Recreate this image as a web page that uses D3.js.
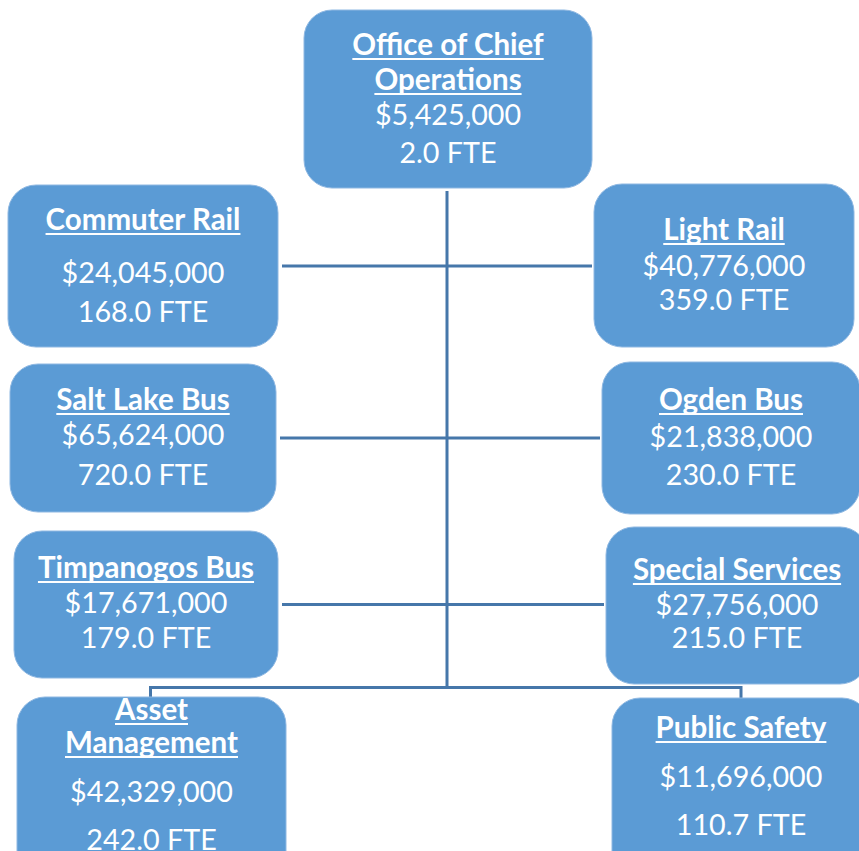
<!DOCTYPE html>
<html lang="en">
<head>
<meta charset="utf-8">
<title>Office of Chief Operations</title>
<script src="https://d3js.org/d3.v7.min.js"></script>
<style>
  body { margin: 0; background: #fff; }
  .box { fill: #5b9bd5; stroke: #8fb8e2; stroke-width: 1; }
  .link { fill: none; stroke: #4677aa; stroke-width: 3px; }
  .node text { fill: #fff; font-family: Lato, "Open Sans", sans-serif; text-anchor: middle; }
  .title { font-weight: bold; font-size: 29.5px; }
  .val { font-size: 28.7px; }
  .uline { stroke: #fff; stroke-width: 2px; }
</style>
</head>
<body>
<svg width="859" height="851"></svg>
<script>
// data
var units = ["Office of Chief|Operations", "Commuter Rail", "Light Rail", "Salt Lake Bus", "Ogden Bus",
             "Timpanogos Bus", "Special Services", "Asset|Management", "Public Safety"];
var budgets = [5425000, 24045000, 40776000, 65624000, 21838000, 17671000, 27756000, 42329000, 11696000];
var fte = [2.0, 168.0, 359.0, 720.0, 230.0, 179.0, 215.0, 242.0, 110.7];

// box layout: x, y, w, h and text baselines (relative to box top)
var layout = [
  {x: 304, y: 10,  w: 288, h: 178, t: [45, 80], b: 115, f: 153},
  {x: 8,   y: 185, w: 270, h: 162, t: [45], b: 98, f: 137},
  {x: 594, y: 184, w: 260, h: 163, t: [56], b: 92, f: 126},
  {x: 10,  y: 364, w: 266, h: 148, t: [46], b: 81, f: 121},
  {x: 602, y: 362, w: 258, h: 152, t: [48], b: 85, f: 123},
  {x: 14,  y: 531, w: 264, h: 147, t: [47], b: 82, f: 117},
  {x: 606, y: 527, w: 262, h: 157, t: [53], b: 88, f: 121},
  {x: 17,  y: 697, w: 269, h: 190, t: [23, 56], b: 105, f: 153},
  {x: 612, y: 698, w: 258, h: 190, t: [40], b: 89, f: 137}
];

var svg = d3.select("svg");
var money = d3.format("$,");
var one = d3.format(".1f");

var nodes = units.map(function(u, i) {
  return {lines: u.split("|"), budget: budgets[i], fte: fte[i], box: layout[i]};
});

function cx(b) { return b.x + b.w / 2; }
function cy(b) { return b.y + b.h / 2; }

// connectors
var links = svg.append("g");
var head = nodes[0].box;
var spineX = cx(head) - 1;
var barY = (nodes[5].box.y + nodes[5].box.h + nodes[7].box.y) / 2;

var path = d3.path();
path.moveTo(spineX, head.y + head.h + 3);
path.lineTo(spineX, barY);
[[1, 2], [3, 4], [5, 6]].forEach(function(p) {
  var l = nodes[p[0]].box, r = nodes[p[1]].box;
  path.moveTo(l.x + l.w + 4, cy(l));
  path.lineTo(r.x - 2, cy(l));
});
var al = nodes[7].box, ps = nodes[8].box;
path.moveTo(cx(al) - 1, al.y);
path.lineTo(cx(al) - 1, barY);
path.lineTo(cx(ps), barY);
path.lineTo(cx(ps), ps.y);
links.append("path").attr("class", "link").attr("d", path.toString());

// boxes
var g = svg.selectAll(".node").data(nodes).enter().append("g")
  .attr("class", "node")
  .attr("transform", function(d) { return "translate(" + d.box.x + "," + d.box.y + ")"; });

g.append("rect").attr("class", "box")
  .attr("width", function(d) { return d.box.w; })
  .attr("height", function(d) { return d.box.h; })
  .attr("rx", 28).attr("ry", 28);

g.each(function(d) {
  var el = d3.select(this);
  var mx = d.box.w / 2;
  d.lines.forEach(function(line, k) {
    var t = el.append("text").attr("class", "title")
      .attr("x", mx).attr("y", d.box.t[k]).text(line);
    var len = t.node().getComputedTextLength();
    el.append("line").attr("class", "uline")
      .attr("x1", mx - len / 2).attr("x2", mx + len / 2)
      .attr("y1", d.box.t[k] + 4).attr("y2", d.box.t[k] + 4);
  });
  el.append("text").attr("class", "val").attr("x", mx).attr("y", d.box.b).text(money(d.budget));
  el.append("text").attr("class", "val").attr("x", mx).attr("y", d.box.f).text(one(d.fte) + " FTE");
});
</script>
</body>
</html>
